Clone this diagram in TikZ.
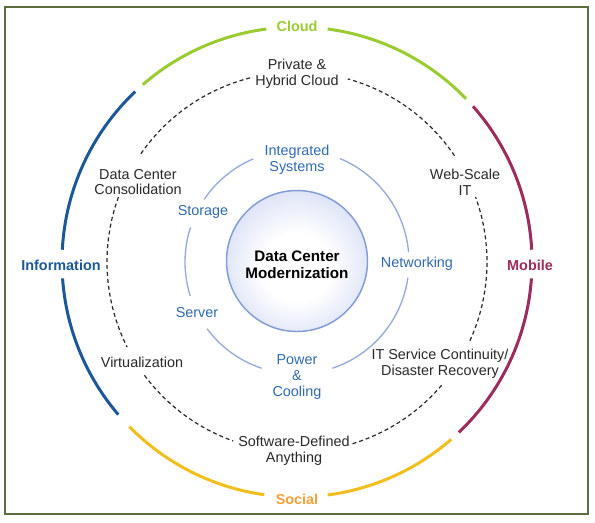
\documentclass[tikz,border=0pt]{standalone}
\usepackage{fontspec}
\setmainfont{Liberation Sans}
\usepackage{xcolor}
\usepackage{tikz}
\definecolor{framegreen}{RGB}{92,108,62}
\definecolor{cloudgreen}{RGB}{154,204,50}
\definecolor{infoblue}{RGB}{28,88,152}
\definecolor{mobilered}{RGB}{156,44,94}
\definecolor{socialyellow}{RGB}{242,190,30}
\definecolor{socialorange}{RGB}{246,160,56}
\definecolor{ringblue}{RGB}{150,170,216}
\definecolor{labelblue}{RGB}{46,106,178}
\definecolor{coreedge}{RGB}{130,156,214}
\definecolor{corefill}{RGB}{168,185,234}
\definecolor{textgray}{RGB}{40,40,40}
\pgfdeclareradialshading{coreshade}{\pgfpoint{0bp}{-3bp}}{color(0bp)=(white); color(12bp)=(white); color(50bp)=(corefill)}

\begin{document}
\begin{tikzpicture}[x=0.75pt,y=0.75pt,
	txt/.style={align=center,inner sep=0pt,font=\fontsize{10.8}{11.8}\selectfont},
	darklabel/.style={txt,text=textgray},
	bluelabel/.style={txt,text=labelblue},
	ringlabel/.style={txt,font=\fontsize{10.8}{11.8}\selectfont\bfseries},
	outer/.style={line width=2.25pt},
	dashring/.style={textgray,line width=0.9pt,dash pattern=on 3pt off 2.2pt},
	innerring/.style={ringblue,line width=1pt}]
	\newcommand\OuterArc[2]{(#1:235) arc[start angle=#1,end angle=#2,radius=235]}
	\newcommand\DashArc[2]{(#1:190) arc[start angle=#1,end angle=#2,radius=190]}
	\newcommand\InnerArc[2]{(#1:112) arc[start angle=#1,end angle=#2,radius=112]}

	\useasboundingbox (-297,-260) rectangle (298,262);
	\draw[framegreen, line width=0.9pt] (-292,255) rectangle (291,-252);

	\draw[outer, cloudgreen] \OuterArc{44}{82.5};
	\draw[outer, cloudgreen] \OuterArc{97.5}{131};
	\draw[outer, infoblue] \OuterArc{133.5}{177};
	\draw[outer, infoblue] \OuterArc{184}{220.5};
	\draw[outer, socialyellow] \OuterArc{224.5}{262};
	\draw[outer, socialyellow] \OuterArc{277.5}{311};
	\draw[outer, mobilered] \OuterArc{313.5}{356};
	\draw[outer, mobilered] \OuterArc{3}{41.5};

	\draw[dashring] \DashArc{34}{74.5};
	\draw[dashring] \DashArc{104.3}{146};
	\draw[dashring] \DashArc{160}{206.6};
	\draw[dashring] \DashArc{216.6}{250.4};
	\draw[dashring] \DashArc{287}{320};
	\draw[dashring] \DashArc{335.5}{380};

	\draw[innerring] \InnerArc{5}{67.5};
	\draw[innerring] \InnerArc{113}{146};
	\draw[innerring] \InnerArc{162}{197.6};
	\draw[innerring] \InnerArc{216.6}{251.6};
	\draw[innerring] \InnerArc{288.4}{352};

	\draw[coreedge, line width=1.1pt, shading=coreshade] (0,1) circle (70.5);
	\node[txt, font=\fontsize{11.4}{12.8}\selectfont\bfseries, text=black] (core) at (0,-3) {Data Center\\Modernization};

	\node[ringlabel, text=cloudgreen] (cloud) at (0,236) {Cloud};
	\node[ringlabel, text=infoblue] (information) at (-236,-3) {Information};
	\node[ringlabel, text=mobilered] (mobile) at (233,-3) {Mobile};
	\node[ringlabel, text=socialorange] (social) at (0,-237) {Social};

	\node[darklabel] (hybrid) at (0,188) {Private \&\\Hybrid Cloud};
	\node[darklabel] (webscale) at (168,80) {Web-Scale\\IT};
	\node[darklabel] (continuity) at (143,-102) {IT Service Continuity/\\Disaster Recovery};
	\node[darklabel] (sda) at (-3,-189) {Software-Defined\\Anything};
	\node[darklabel] (virtual) at (-155,-100) {Virtualization};
	\node[darklabel] (consolidation) at (-159,80) {Data Center\\Consolidation};

	\node[bluelabel] (integrated) at (0,102) {Integrated\\Systems};
	\node[bluelabel] (storage) at (-94,50) {Storage};
	\node[bluelabel] (networking) at (120,-2) {Networking};
	\node[bluelabel] (server) at (-100,-51) {Server};
	\node[bluelabel] (power) at (0,-115) {Power\\\&\\Cooling};
\end{tikzpicture}
\end{document}
